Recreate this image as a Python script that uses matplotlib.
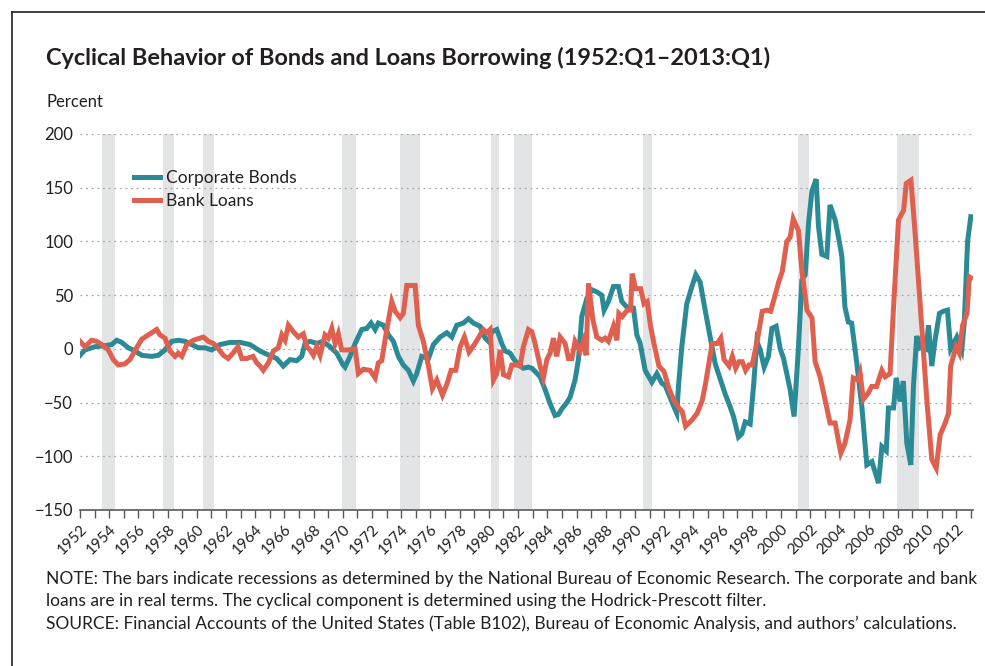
import matplotlib
matplotlib.use('Agg')
import matplotlib.pyplot as plt
from matplotlib.lines import Line2D

# Cyclical component (percent), decimal years
bond_years = [1952.0, 1952.34, 1953.03, 1953.71, 1954.17, 1954.51, 1954.86, 1955.31, 1955.77, 1956.23,
              1956.91, 1957.36, 1957.82, 1958.28, 1958.73, 1959.19, 1959.65, 1960.10, 1960.56, 1961.02,
              1961.59, 1962.27, 1962.96, 1963.64, 1964.33, 1964.79, 1965.47, 1965.92, 1966.38, 1966.84,
              1967.18, 1967.41, 1967.75, 1968.21, 1968.64, 1969.12, 1969.58, 1970.01, 1970.15, 1970.49,
              1970.84, 1971.29, 1971.64, 1971.93, 1972.21, 1972.43, 1972.77, 1973.12, 1973.46, 1973.80,
              1974.14, 1974.49, 1974.83, 1975.06, 1975.40, 1975.86, 1976.20, 1976.66, 1977.12, 1977.46,
              1977.80, 1978.25, 1978.60, 1978.94, 1979.40, 1979.74, 1979.97, 1980.20, 1980.54, 1980.88,
              1981.11, 1981.45, 1981.68, 1982.02, 1982.36, 1982.71, 1982.94, 1983.16, 1983.51, 1983.85,
              1984.19, 1984.53, 1984.76, 1984.99, 1985.34, 1985.56, 1985.90, 1986.13, 1986.36, 1986.71,
              1987.05, 1987.39, 1987.73, 1987.89, 1988.18, 1988.53, 1988.87, 1989.10, 1989.44, 1989.90,
              1990.13, 1990.36, 1990.70, 1991.16, 1991.50, 1991.84, 1992.07, 1992.40, 1992.64, 1992.87,
              1992.98, 1993.21, 1993.55, 1993.90, 1994.17, 1994.47, 1994.81, 1995.15, 1995.50, 1995.84,
              1996.18, 1996.52, 1996.75, 1997.09, 1997.32, 1997.55, 1997.89, 1998.12, 1998.35, 1998.58,
              1998.85, 1999.14, 1999.38, 1999.67, 1999.95, 2000.18, 2000.40, 2000.63, 2000.90, 2001.20,
              2001.43, 2001.66, 2001.89, 2002.12, 2002.41, 2002.57, 2002.80, 2003.14, 2003.36, 2003.71,
              2003.94, 2004.17, 2004.38, 2004.61, 2004.84, 2005.19, 2005.54, 2005.88, 2006.23, 2006.68,
              2006.91, 2007.21, 2007.36, 2007.71, 2007.89, 2008.16, 2008.38, 2008.62, 2008.89, 2009.07,
              2009.30, 2009.53, 2009.72, 2009.95, 2010.10, 2010.33, 2010.55, 2010.85, 2011.12, 2011.40,
              2011.62, 2012.04, 2012.38, 2012.55, 2012.78, 2013.0]
bond_vals = [-6, -1, 2, 3, 4, 8, 6, 1, -2, -6,
             -7, -6, -1, 7, 8, 7, 4, 1, 1, -1,
             4, 6, 6, 4, -2, -5, -9, -16, -10, -11,
             -7, 5, 7, 5, 7, 2, -4, -15, -17, -7,
             5, 18, 19, 24, 18, 24, 22, 13, 7, -7,
             -15, -20, -30, -23, -7, -9, 4, 11, 15, 11,
             22, 24, 28, 24, 21, 10, 7, 16, 18, 5,
             -2, -4, -9, -15, -18, -17, -18, -21, -26, -38,
             -51, -62, -61, -56, -50, -45, -29, -10, 30, 47,
             55, 53, 50, 36, 44, 58, 58, 44, 39, 38,
             13, 5, -20, -31, -23, -32, -34, -45, -53, -60,
             -35, 2, 42, 58, 69, 62, 36, 11, -14, -28,
             -42, -54, -63, -82, -79, -68, -70, -35, 7, -1,
             -17, -7, 19, 21, 0, -9, -23, -38, -63, 2,
             64, 69, 117, 147, 158, 114, 88, 86, 134, 120,
             104, 86, 39, 25, 24, -13, -54, -108, -105, -125,
             -91, -95, -55, -55, -27, -49, -30, -88, -108, -35,
             12, 1, 2, 0, 22, -16, 8, 33, 35, 36,
             0, 11, -1, 24, 100, 123]

loan_years = [1952.0, 1952.34, 1952.80, 1953.14, 1953.49, 1953.94, 1954.28, 1954.62, 1955.08, 1955.42,
              1955.88, 1956.23, 1956.68, 1957.02, 1957.25, 1957.48, 1957.82, 1958.16, 1958.51, 1958.73,
              1958.97, 1959.31, 1959.76, 1960.22, 1960.45, 1960.79, 1961.13, 1961.36, 1961.82, 1962.14,
              1962.48, 1962.82, 1963.08, 1963.42, 1963.85, 1964.10, 1964.33, 1964.55, 1964.90, 1965.24,
              1965.58, 1965.82, 1966.04, 1966.27, 1966.61, 1966.95, 1967.29, 1967.53, 1967.75, 1967.98,
              1968.21, 1968.44, 1968.78, 1969.01, 1969.24, 1969.47, 1969.69, 1969.92, 1970.15, 1970.38,
              1970.84, 1971.06, 1971.40, 1971.86, 1972.21, 1972.43, 1972.66, 1973.01, 1973.35, 1973.58,
              1973.92, 1974.14, 1974.38, 1974.72, 1974.95, 1975.17, 1975.51, 1975.86, 1976.13, 1976.43,
              1976.82, 1977.12, 1977.41, 1977.73, 1978.03, 1978.32, 1978.64, 1979.05, 1979.40, 1979.62,
              1979.86, 1980.08, 1980.31, 1980.54, 1980.77, 1981.00, 1981.34, 1981.57, 1981.92, 1982.14,
              1982.36, 1982.71, 1982.94, 1983.16, 1983.51, 1983.73, 1983.97, 1984.19, 1984.42, 1984.64,
              1984.88, 1985.22, 1985.45, 1985.68, 1985.90, 1986.25, 1986.47, 1986.66, 1986.82, 1987.12,
              1987.39, 1987.73, 1987.96, 1988.18, 1988.53, 1988.76, 1988.90, 1989.13, 1989.47, 1989.70,
              1989.81, 1990.05, 1990.39, 1990.62, 1990.84, 1991.07, 1991.30, 1991.64, 1991.99, 1992.33,
              1992.67, 1993.01, 1993.23, 1993.47, 1993.92, 1994.26, 1994.61, 1994.84, 1995.07, 1995.29,
              1995.64, 1995.88, 1996.10, 1996.45, 1996.67, 1996.90, 1997.12, 1997.35, 1997.58, 1997.81,
              1998.03, 1998.38, 1998.72, 1999.06, 1999.29, 1999.52, 1999.86, 2000.09, 2000.40, 2000.63,
              2000.84, 2001.20, 2001.43, 2001.78, 2002.12, 2002.34, 2002.68, 2003.03, 2003.36, 2003.71,
              2003.94, 2004.10, 2004.38, 2004.73, 2004.95, 2005.29, 2005.42, 2005.64, 2005.98, 2006.21,
              2006.55, 2006.91, 2007.14, 2007.47, 2007.71, 2008.05, 2008.40, 2008.58, 2008.90, 2009.19,
              2009.53, 2009.99, 2010.33, 2010.63, 2010.90, 2011.25, 2011.47, 2011.62, 2011.99, 2012.21,
              2012.44, 2012.74, 2012.90, 2013.0]
loan_vals = [7, 2, 8, 7, 4, -1, -10, -15, -14, -10,
             1, 9, 13, 16, 18, 13, 10, -2, -7, -4,
             -7, 4, 8, 10, 11, 7, 5, 2, -6, -9,
             -4, 2, -9, -9, -7, -13, -16, -20, -13, -2,
             1, 13, 8, 22, 16, 11, 14, 2, -1, -6,
             2, -6, 13, 10, 19, 5, 14, -1, -1, -1,
             0, -23, -19, -20, -27, -13, -11, 18, 44, 35,
             29, 33, 59, 59, 59, 22, 7, -16, -37, -29,
             -43, -33, -20, -20, 2, 11, -3, 5, 13, 18,
             15, 18, -29, -23, -1, -24, -26, -15, -15, -16,
             2, 18, 16, 5, -16, -27, -10, -4, 10, -7,
             11, 5, -9, -9, 7, -2, 7, -6, 61, 27,
             11, 8, 10, 7, 21, 8, 33, 30, 36, 36,
             70, 56, 56, 42, 44, 21, 5, -16, -21, -37,
             -48, -55, -58, -72, -66, -60, -48, -32, -13, 5,
             5, 10, -10, -16, -7, -18, -12, -12, -20, -15,
             -15, 8, 35, 36, 35, 46, 63, 72, 100, 104,
             121, 110, 73, 36, 29, -12, -26, -48, -69, -69,
             -86, -97, -88, -66, -27, -29, -23, -47, -41, -35,
             -35, -20, -26, -23, 39, 120, 129, 154, 157, 107,
             42, -48, -103, -111, -80, -69, -60, -16, 2, -4,
             22, 33, 67, 66]

# NBER recessions (start, end) in decimal years
rec_start = [1953.50, 1957.67, 1960.42, 1969.92, 1973.92, 1980.15, 1981.75, 1990.58, 2001.17, 2007.92]
rec_end = [1954.42, 1958.42, 1961.17, 1970.92, 1975.25, 1980.67, 1982.92, 1991.17, 2001.92, 2009.42]

year_ticks = list(range(1952, 2014))
year_labels = [str(y) if y % 2 == 0 else '' for y in year_ticks]
y_ticks = [-150, -100, -50, 0, 50, 100, 150, 200]
y_labels = ['\u2212150', '\u2212100', '\u221250', '0', '50', '100', '150', '200']

plt.rcParams['font.family'] = ['Lato', 'DejaVu Sans']
text_col = '#231f20'
teal = '#2a8a96'
red = '#e06050'

fig = plt.figure(figsize=(9.85, 6.66), dpi=100)
ax = fig.add_axes([80 / 985, 156 / 666, 893 / 985, 376 / 666])

for s, e in zip(rec_start, rec_end):
    ax.axvspan(s, e, color='#e3e4e5', lw=0, zorder=0)

for yv in y_ticks[1:]:
    ax.axhline(yv, color='#a7a9ac', lw=0.9, ls=(0, (1.5, 3)), zorder=1)

ax.plot(bond_years, bond_vals, color=teal, lw=3.6, solid_joinstyle='miter', label='Corporate Bonds', zorder=3)
ax.plot(loan_years, loan_vals, color=red, lw=3.6, solid_joinstyle='miter', label='Bank Loans', zorder=3)

ax.set_xlim(1952, 2013.15)
ax.set_ylim(-150, 200)
for sp in ['top', 'right', 'left']:
    ax.spines[sp].set_visible(False)
ax.spines['bottom'].set_color('#58595b')
ax.spines['bottom'].set_linewidth(1.2)

ax.set_yticks(y_ticks)
ax.set_yticklabels(y_labels, fontsize=12, color=text_col)
ax.tick_params(axis='y', length=0, pad=5)

ax.set_xticks(year_ticks)
ax.set_xticklabels(year_labels, rotation=45, ha='right', va='top', rotation_mode='anchor',
                   fontsize=11, color=text_col)
ax.tick_params(axis='x', length=6, width=1, color='#58595b', pad=3)

leg = ax.legend(loc='upper left', bbox_to_anchor=(0.053, 0.922), frameon=False, fontsize=12.5,
                handlelength=1.5, handletextpad=0.35, labelspacing=0.38, borderaxespad=0)
for t in leg.get_texts():
    t.set_color(text_col)

fig.text(46 / 985, 1 - 58 / 666, 'Cyclical Behavior of Bonds and Loans Borrowing (1952:Q1\u20132013:Q1)',
         fontsize=16.9, fontweight='bold', color=text_col, va='center', ha='left')
fig.text(46 / 985, 1 - 102 / 666, 'Percent', fontsize=12, color=text_col, va='center', ha='left')

note = ('NOTE: The bars indicate recessions as determined by the National Bureau of Economic Research. '
        'The corporate and bank\nloans are in real terms. The cyclical component is determined using the '
        'Hodrick-Prescott filter.\nSOURCE: Financial Accounts of the United States (Table B102), Bureau of '
        'Economic Analysis, and authors\u2019 calculations.')
fig.text(46 / 985, 1 - 571 / 666, note, fontsize=12.5, color=text_col, va='top', ha='left', linespacing=1.45)

# frame around the figure (only left and top edges fall inside the picture)
fig.add_artist(Line2D([12 / 985, 12 / 985], [0, 1 - 12 / 666], transform=fig.transFigure, color=text_col, lw=1.2))
fig.add_artist(Line2D([12 / 985, 1], [1 - 12 / 666, 1 - 12 / 666], transform=fig.transFigure, color=text_col, lw=1.2))

fig.savefig('out.png', dpi=100)
